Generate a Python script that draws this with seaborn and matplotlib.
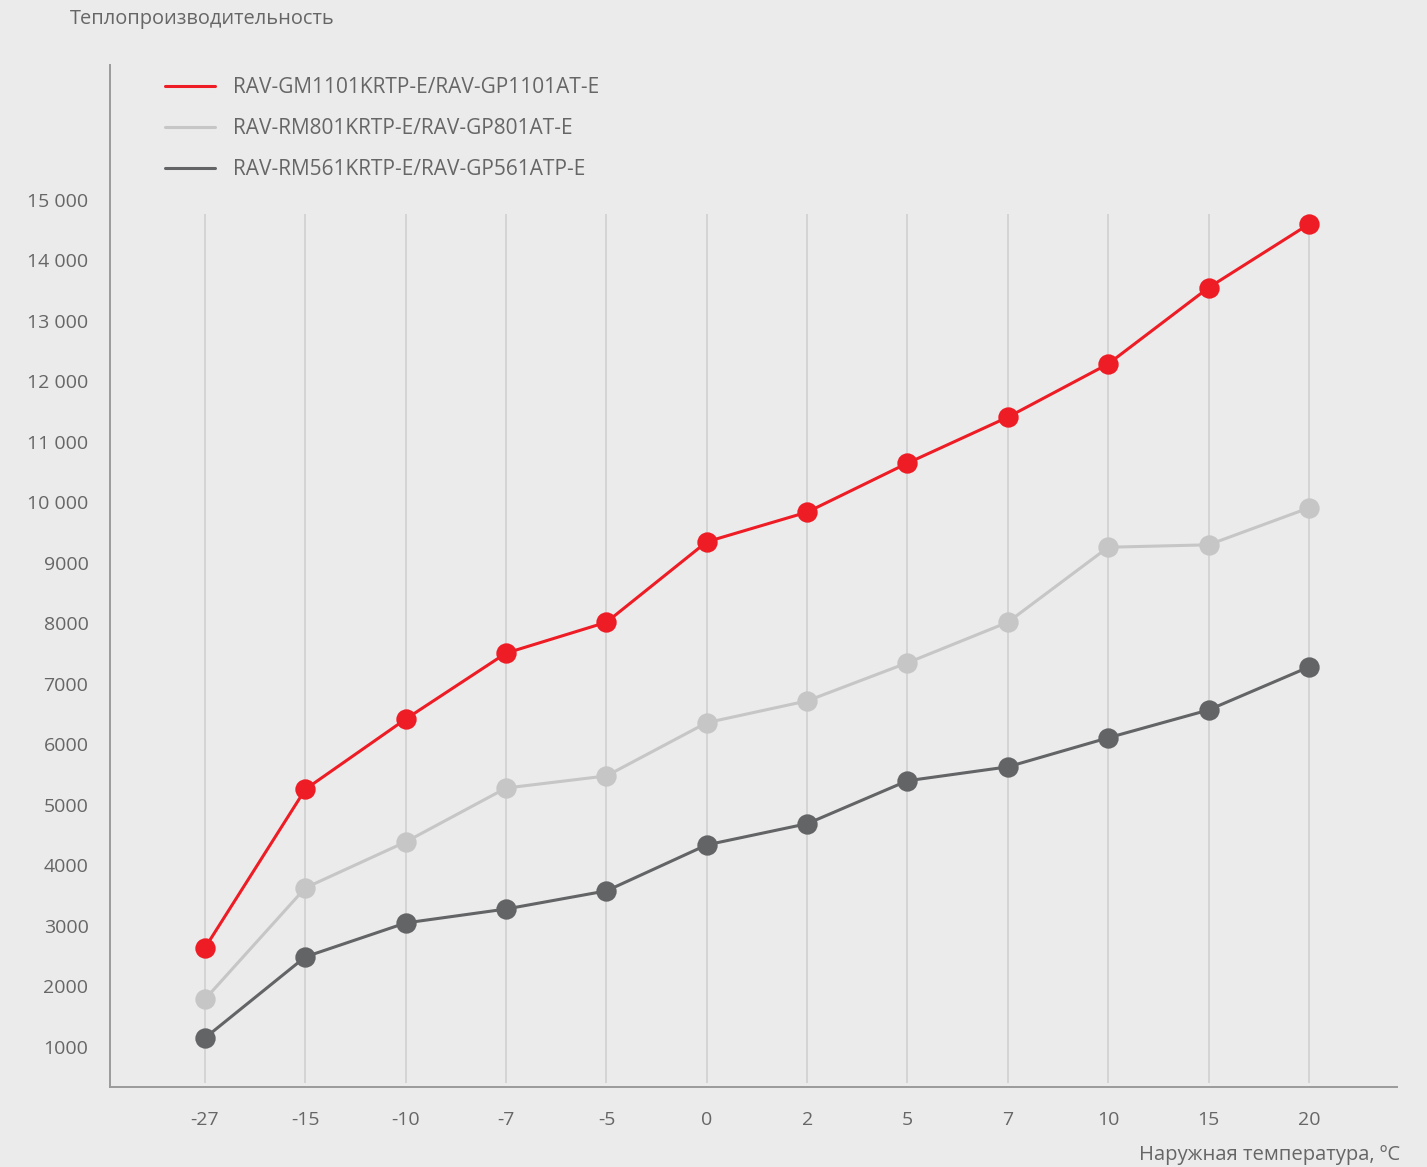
import matplotlib
matplotlib.use("Agg")
import matplotlib.pyplot as plt
from matplotlib.lines import Line2D
import seaborn as sns
import pandas as pd

temps = ["-27", "-15", "-10", "-7", "-5", "0", "2", "5", "7", "10", "15", "20"]
series_names = [
    "RAV-GM1101KRTP-E/RAV-GP1101AT-E",
    "RAV-RM801KRTP-E/RAV-GP801AT-E",
    "RAV-RM561KRTP-E/RAV-GP561ATP-E",
]
red_vals = [2640, 5260, 6420, 7510, 8020, 9350, 9840, 10650, 11410, 12290, 13550, 14600]
light_vals = [1790, 3630, 4390, 5280, 5480, 6360, 6720, 7350, 8020, 9260, 9300, 9910]
dark_vals = [1150, 2490, 3050, 3280, 3580, 4340, 4690, 5400, 5630, 6110, 6570, 7280]
colors = ["#ee1c25", "#c6c6c6", "#636466"]
yticks = [1000, 2000, 3000, 4000, 5000, 6000, 7000, 8000, 9000, 10000, 11000, 12000, 13000, 14000, 15000]
ytick_labels = ["1000", "2000", "3000", "4000", "5000", "6000", "7000", "8000", "9000",
                "10 000", "11 000", "12 000", "13 000", "14 000", "15 000"]

rows = []
for name, vals in zip(series_names, [red_vals, light_vals, dark_vals]):
    for t, v in zip(temps, vals):
        rows.append({"temp": t, "value": v, "model": name})
df = pd.DataFrame(rows)

sns.set_theme(style="white")
plt.rcParams["font.family"] = ["Open Sans", "DejaVu Sans"]
bg = "#ebebeb"
fig = plt.figure(figsize=(14.27, 11.67), dpi=100, facecolor=bg)
ax = fig.add_axes([0.0771, 0.0686, 0.902, 0.8757], facecolor=bg)

ax.vlines(range(len(temps)), ymin=400, ymax=14770, color="#d2d2d2", lw=1.3, zorder=0)

# draw dark, light, red so red on top
order_draw = [2, 1, 0]
for i in order_draw:
    sub = df[df["model"] == series_names[i]]
    sns.pointplot(data=sub, x="temp", y="value", order=temps, color=colors[i],
                  markers="o", markersize=13, linewidth=2.2, ax=ax, errorbar=None)

ax.set_xlim(-0.947, 11.88)
ax.set_ylim(339, 17231)
ax.set_yticks(yticks)
ax.set_yticklabels(ytick_labels)
ax.set_xlabel("")
ax.set_ylabel("")
ax.tick_params(axis="both", length=0, labelsize=14, colors="#666666")
ax.tick_params(axis="x", pad=17.5)
ax.tick_params(axis="y", pad=15.5)
for lab in ax.get_yticklabels():
    lab.set_horizontalalignment("right")

for s in ["top", "right"]:
    ax.spines[s].set_visible(False)
for s in ["left", "bottom"]:
    ax.spines[s].set_color("#9a9a9a")
    ax.spines[s].set_linewidth(1.4)

handles = [Line2D([0], [0], color=c, lw=2.2) for c in colors]
leg = ax.legend(handles, series_names, loc="upper left", bbox_to_anchor=(0.0365, 0.996),
                frameon=False, fontsize=15, handlelength=2.4, handletextpad=0.87,
                labelspacing=0.96, borderaxespad=0)
for t in leg.get_texts():
    t.set_color("#666666")

fig.text(70 / 1427, 1 - 19 / 1167, "Теплопроизводительность", fontsize=14.4,
         color="#666666", ha="left", va="center")
fig.text(1400 / 1427, 1 - 1155 / 1167, "Наружная температура, ºC", fontsize=14.6,
         color="#666666", ha="right", va="center")

fig.savefig("out.png", dpi=100, facecolor=bg)
